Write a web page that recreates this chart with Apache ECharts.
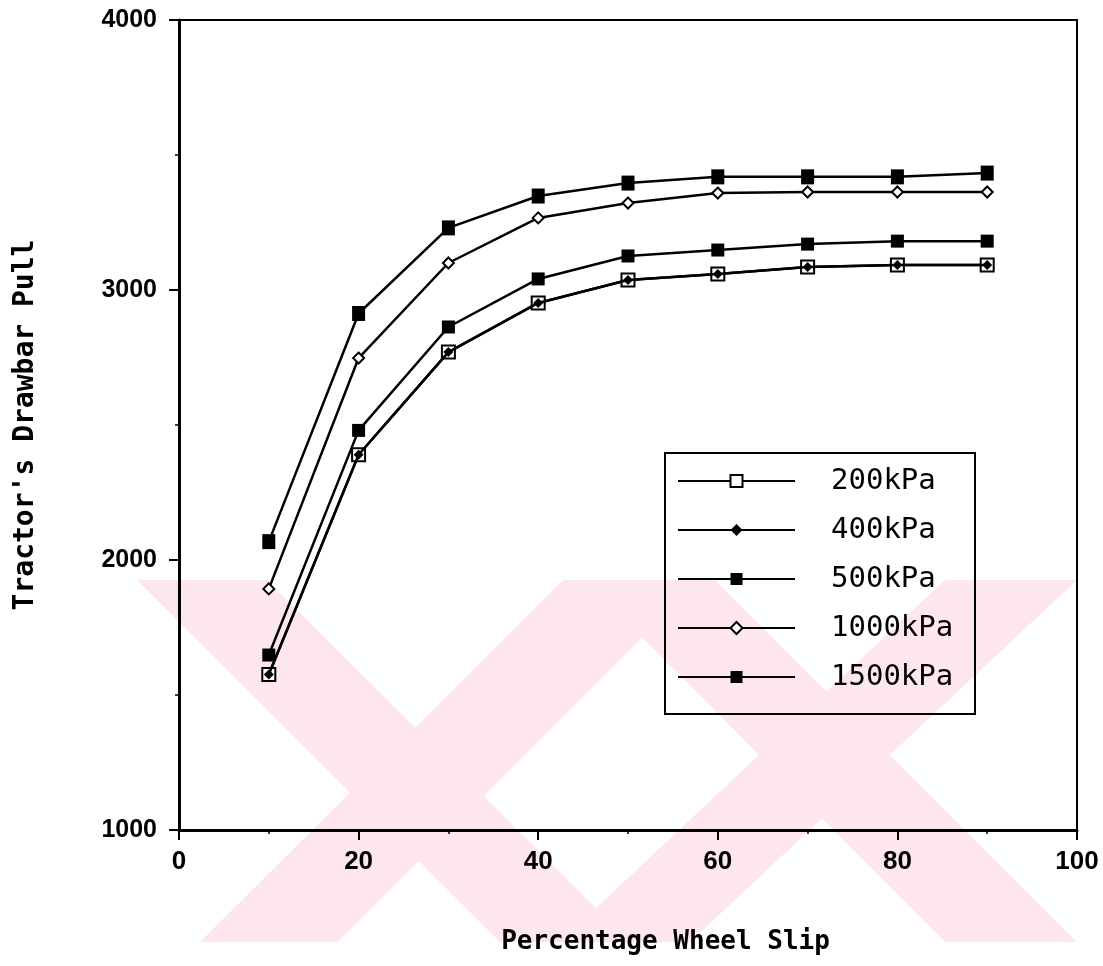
<!DOCTYPE html>
<html>
<head>
<meta charset="utf-8">
<script src="https://cdn.jsdelivr.net/npm/echarts@6/dist/echarts.min.js"></script>
<style>
  html, body { margin: 0; padding: 0; background: #fff; }
  #chart { width: 1103px; height: 966px; }
</style>
</head>
<body>
<div id="chart"></div>
<script>
// Percentage wheel slip (x) and drawbar pull (y) for each tyre inflation pressure
const slip = [10, 20, 30, 40, 50, 60, 70, 80, 90];
const pull200 = [1576, 2390, 2770, 2952, 3037, 3059, 3085, 3093, 3093];
const pull400 = [1576, 2390, 2770, 2952, 3037, 3059, 3085, 3093, 3093];
const pull500 = [1648, 2480, 2863, 3041, 3126, 3148, 3170, 3181, 3181];
const pull1000 = [1893, 2748, 3100, 3267, 3322, 3359, 3363, 3363, 3363];
const pull1500 = [2068, 2913, 3230, 3348, 3396, 3419, 3419, 3419, 3433];

const seriesNames = ['200kPa', '400kPa', '500kPa', '1000kPa', '1500kPa'];
const xTicks = [0, 20, 40, 60, 80, 100];
const yTicks = [1000, 2000, 3000, 4000];

const tickFont = "'Liberation Sans', Arial, sans-serif";
const textFont = "'DejaVu Sans Mono', monospace";

function pairs(values) {
  return slip.map((x, i) => [x, values[i]]);
}

function lineSeries(name, values, symbol, size, open, z) {
  return {
    name: name,
    type: 'line',
    data: pairs(values),
    symbol: symbol,
    symbolSize: size,
    showSymbol: true,
    z: z,
    lineStyle: { color: '#000', width: 2.5 },
    itemStyle: open
      ? { color: '#fff', borderColor: '#000', borderWidth: 2 }
      : { color: '#000', borderWidth: 0 },
    emphasis: { disabled: true }
  };
}

// Pale background emblem drawn behind the plot
const emblemFill = 'rgb(253, 231, 236)';
const emblem = [
  [[137, 580], [267, 580], [630, 942], [500, 942]],
  [[200, 942], [338, 942], [700, 580], [563, 580]],
  [[585, 580], [715, 580], [1077, 942], [945, 942]],
  [[560, 942], [690, 942], [1077, 580], [945, 580]]
].map(pts => ({
  type: 'polygon',
  z: -10,
  silent: true,
  shape: { points: pts },
  style: { fill: emblemFill }
}));

const chart = echarts.init(document.getElementById('chart'), null, { renderer: 'canvas' });

chart.setOption({
  animation: false,
  backgroundColor: '#fff',
  grid: {
    left: 179, right: 26, top: 20, bottom: 136,
    show: true, borderColor: '#000', borderWidth: 2, backgroundColor: 'transparent'
  },
  xAxis: {
    type: 'value',
    min: xTicks[0],
    max: xTicks[xTicks.length - 1],
    interval: 20,
    name: 'Percentage Wheel Slip',
    nameLocation: 'middle',
    nameGap: 99,
    nameTextStyle: { fontFamily: textFont, fontWeight: 'bold', fontSize: 26, color: '#000', padding: [0, 0, 0, 75] },
    axisLine: { show: true, lineStyle: { color: '#000', width: 3 } },
    axisTick: { show: true, length: 10, lineStyle: { color: '#000', width: 2 } },
    minorTick: { show: true, splitNumber: 2, length: 4, lineStyle: { color: '#000', width: 1.5 } },
    splitLine: { show: false },
    axisLabel: { margin: 19, fontFamily: tickFont, fontWeight: 'bold', fontSize: 26, color: '#000',
      formatter: v => String(v) }
  },
  yAxis: {
    type: 'value',
    min: yTicks[0],
    max: yTicks[yTicks.length - 1],
    interval: 1000,
    name: "Tractor's Drawbar Pull",
    nameLocation: 'middle',
    nameGap: 139,
    nameTextStyle: { fontFamily: textFont, fontWeight: 'bold', fontSize: 28, color: '#000' },
    axisLine: { show: true, lineStyle: { color: '#000', width: 3 } },
    axisTick: { show: true, length: 10, lineStyle: { color: '#000', width: 2 } },
    minorTick: { show: true, splitNumber: 2, length: 4, lineStyle: { color: '#000', width: 1.5 } },
    splitLine: { show: false },
    axisLabel: { margin: 22, fontFamily: tickFont, fontWeight: 'bold', fontSize: 25, color: '#000',
      formatter: v => String(v) }
  },
  legend: {
    orient: 'vertical',
    left: 677,
    top: 466,
    padding: 0,
    itemWidth: 117,
    itemHeight: 15,
    itemGap: 19,
    selectedMode: false,
    data: seriesNames,
    textStyle: {
      fontFamily: textFont, fontSize: 29, color: '#000',
      lineHeight: 30, padding: [0, 0, 0, 31]
    }
  },
  graphic: emblem.concat([{
    type: 'rect',
    z: 100,
    silent: true,
    shape: { x: 665, y: 453, width: 310, height: 261 },
    style: { fill: 'transparent', stroke: '#000', lineWidth: 2 }
  }]),
  series: [
    lineSeries(seriesNames[0], pull200, 'rect', 13, true, 3),
    lineSeries(seriesNames[1], pull400, 'diamond', 10, false, 4),
    lineSeries(seriesNames[2], pull500, 'rect', 13, false, 5),
    lineSeries(seriesNames[3], pull1000, 'diamond', 11, true, 6),
    lineSeries(seriesNames[4], pull1500, 'rect', [13, 15], false, 7)
  ]
});
</script>
</body>
</html>
